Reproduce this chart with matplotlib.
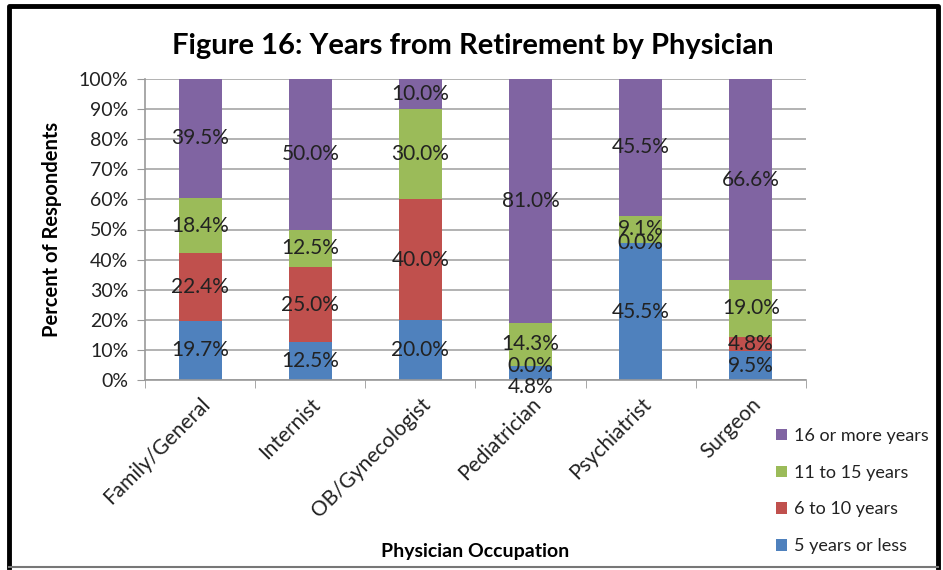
import numpy as np
import matplotlib.pyplot as plt
from matplotlib.lines import Line2D

plt.rcParams['font.family'] = ['Lato', 'DejaVu Sans']

# --- Data ---
categories = ["Family/General", "Internist", "OB/Gynecologist",
              "Pediatrician", "Psychiatrist", "Surgeon"]
series_names = ["5 years or less", "6 to 10 years", "11 to 15 years", "16 or more years"]
five_or_less = [19.7, 12.5, 20.0, 4.8, 45.5, 9.5]
six_to_ten = [22.4, 25.0, 40.0, 0.0, 0.0, 4.8]
eleven_to_fifteen = [18.4, 12.5, 30.0, 14.3, 9.1, 19.0]
sixteen_plus = [39.5, 50.0, 10.0, 81.0, 45.5, 66.6]
yticks = [0, 10, 20, 30, 40, 50, 60, 70, 80, 90, 100]

colors = ["#4F81BD", "#C0504D", "#9BBB59", "#8064A2"]

# --- Figure ---
W, H = 943, 570
fig = plt.figure(figsize=(W / 100, H / 100), dpi=100)
ax = fig.add_axes([145 / W, 1 - 380 / H, (806 - 145) / W, (380 - 79) / H])

x = np.arange(len(categories))
bottom = np.zeros(len(categories))
series = [five_or_less, six_to_ten, eleven_to_fifteen, sixteen_plus]
handles = []
for si, (name, vals, c) in enumerate(zip(series_names, series, colors)):
    vals = np.array(vals)
    b = ax.bar(x, vals, 0.39, bottom=bottom, color=c, label=name, zorder=2)
    handles.append(b)
    for i, v in enumerate(vals):
        dy = 0
        # Excel nudged this overlapping label downward
        if si == 0 and categories[i] == "Pediatrician":
            dy = -10
        ax.annotate(f"{v:.1f}%", (x[i], bottom[i] + v / 2), xytext=(0, dy),
                    textcoords="offset points", ha="center", va="center",
                    fontsize=15, color="#222222", zorder=3, annotation_clip=False)
    bottom += vals

ax.set_xlim(-0.5, len(categories) - 0.5)
ax.set_ylim(0, 100)
ax.set_yticks(yticks)
ax.set_yticklabels([f"{t}%" for t in yticks], fontsize=14, color="#222222")
ax.set_xticks(x)
ax.set_xticklabels(categories, rotation=45, ha="right", rotation_mode="anchor",
                   fontsize=15, color="#222222")
ax.set_xticks(np.arange(-0.5, len(categories)), minor=True)
ax.tick_params(axis="x", which="major", length=0, pad=10)
ax.tick_params(axis="x", which="minor", length=6, color="#999999", direction="out")
ax.tick_params(axis="y", length=6, color="#999999", direction="out", pad=6)
ax.grid(axis="y", color="#A6A6A6", linewidth=1.2, zorder=0)
ax.set_axisbelow(True)
for s in ["top", "right"]:
    ax.spines[s].set_visible(False)
for s in ["left", "bottom"]:
    ax.spines[s].set_color("#999999")
    ax.spines[s].set_linewidth(1.2)

fig.text(52 / W, 1 - 229 / H, "Percent of Respondents", fontsize=14.5,
         fontweight="bold", rotation=90, ha="center", va="center")
fig.text(475 / W, 1 - 551 / H, "Physician Occupation", fontsize=14,
         fontweight="bold", ha="center", va="center")
fig.text(473 / W, 1 - 46 / H, "Figure 16: Years from Retirement by Physician",
         fontsize=21, fontweight="bold", ha="center", va="center")

fig.legend(handles[::-1], series_names[::-1], loc="center left",
           bbox_to_anchor=(760 / W, 1 - 491 / H), frameon=False, fontsize=13,
           handlelength=0.6, handleheight=0.6, handletextpad=0.4,
           labelspacing=1.15, labelcolor="#222222")

# outer frame
fig.add_artist(Line2D([9 / W, 9 / W, 938 / W, 938 / W],
                      [1 - 567 / H, 1 - 6 / H, 1 - 6 / H, 1 - 567 / H],
                      color="black", linewidth=3.5, transform=fig.transFigure))
fig.add_artist(Line2D([9 / W, 938 / W], [1 - 567 / H, 1 - 567 / H],
                      color="#777777", linewidth=1.5, transform=fig.transFigure))

fig.savefig("out.png", dpi=100)
